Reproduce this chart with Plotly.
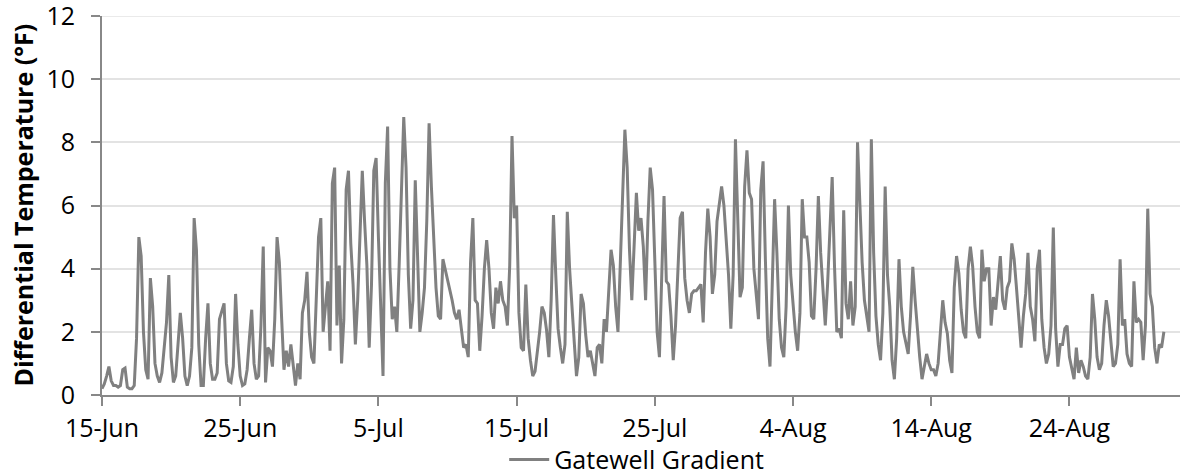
import pandas as pd
import plotly.graph_objects as go

# Gatewell Gradient, differential temperature (°F), 4-hourly readings
# (00, 04, 08, 12, 16, 20 h) for each day starting 15-Jun
start_date = "2013-06-15"
readings_per_day = 6
day_values = [
    [0.2, 0.35, 0.6, 0.9, 0.45, 0.3],
    [0.3, 0.25, 0.3, 0.8, 0.85, 0.25],
    [0.2, 0.2, 0.3, 1.8, 5.0, 4.4],
    [2.0, 0.8, 0.5, 3.7, 2.8, 1.0],
    [0.6, 0.4, 0.7, 1.6, 2.3, 3.8],
    [1.2, 0.4, 0.6, 1.6, 2.6, 1.8],
    [0.6, 0.3, 0.6, 1.5, 5.6, 4.6],
    [1.6, 0.3, 0.3, 1.8, 2.9, 1.0],
    [0.5, 0.5, 0.7, 2.4, 2.7, 2.9],
    [1.0, 0.45, 0.4, 0.9, 3.2, 1.6],
    [0.6, 0.3, 0.35, 0.8, 1.8, 2.7],
    [1.0, 0.5, 0.6, 2.2, 4.7, 0.4],
    [1.5, 1.4, 0.9, 2.4, 5.0, 4.2],
    [2.4, 0.8, 1.4, 0.9, 1.6, 1.0],
    [0.3, 1.0, 0.5, 2.6, 3.0, 3.9],
    [2.0, 1.2, 1.0, 3.0, 5.0, 5.6],
    [2.0, 2.8, 3.6, 1.4, 6.7, 7.2],
    [2.2, 4.1, 1.0, 2.4, 6.5, 7.1],
    [4.8, 3.5, 1.6, 3.0, 4.9, 7.1],
    [5.5, 4.1, 1.5, 3.5, 7.1, 7.5],
    [5.0, 3.0, 0.6, 6.7, 8.5, 4.0],
    [2.4, 2.8, 2.0, 4.1, 6.7, 8.8],
    [7.2, 3.8, 2.1, 3.0, 6.8, 4.2],
    [2.0, 2.6, 3.4, 5.5, 8.6, 6.6],
    [4.7, 3.4, 2.5, 2.4, 4.3, 4.0],
    [3.7, 3.4, 3.0, 2.6, 2.4, 2.7],
    [2.0, 1.5, 1.6, 1.2, 4.2, 5.6],
    [3.0, 2.9, 1.4, 2.5, 4.0, 4.9],
    [4.0, 2.6, 2.1, 3.4, 2.9, 3.6],
    [3.0, 2.8, 2.2, 4.1, 8.2, 5.6],
    [6.0, 2.6, 1.5, 1.4, 3.5, 1.8],
    [1.1, 0.6, 0.75, 1.3, 2.0, 2.8],
    [2.6, 2.05, 1.2, 3.0, 5.7, 3.8],
    [2.1, 1.5, 1.0, 1.6, 5.8, 4.0],
    [3.0, 1.7, 0.6, 1.2, 3.2, 2.9],
    [1.9, 1.2, 1.4, 1.0, 0.6, 1.5],
    [1.6, 1.0, 2.4, 2.0, 3.5, 4.6],
    [4.1, 2.8, 2.0, 4.3, 6.2, 8.4],
    [7.2, 4.6, 3.0, 4.6, 6.4, 5.2],
    [5.6, 4.7, 3.0, 5.5, 7.2, 6.5],
    [4.0, 2.0, 1.2, 3.5, 6.3, 3.6],
    [3.5, 2.5, 1.1, 2.2, 3.9, 5.6],
    [5.8, 3.7, 3.0, 2.6, 3.2, 3.3],
    [3.3, 3.4, 3.5, 2.3, 4.5, 5.9],
    [5.0, 3.2, 3.8, 5.5, 6.0, 6.6],
    [6.0, 5.0, 3.8, 2.1, 3.8, 8.1],
    [5.4, 3.1, 3.4, 6.6, 7.75, 6.4],
    [6.2, 4.0, 3.2, 2.4, 6.5, 7.4],
    [4.3, 1.8, 0.9, 3.5, 6.2, 4.5],
    [2.4, 1.5, 1.2, 2.8, 6.0, 3.8],
    [2.9, 2.0, 1.4, 2.6, 6.2, 5.0],
    [5.0, 4.2, 2.5, 2.4, 4.0, 6.3],
    [4.5, 3.4, 2.2, 3.5, 5.0, 6.9],
    [4.1, 2.0, 2.1, 1.8, 5.85, 2.9],
    [2.4, 3.6, 2.2, 2.8, 8.0, 5.8],
    [4.2, 3.0, 2.5, 2.0, 8.1, 4.5],
    [2.5, 1.6, 1.1, 2.6, 6.6, 3.8],
    [2.8, 1.1, 0.5, 1.8, 4.3, 2.8],
    [2.0, 1.7, 1.3, 2.5, 4.06, 3.0],
    [2.0, 1.2, 0.5, 0.9, 1.3, 1.0],
    [0.8, 0.8, 0.6, 1.0, 1.9, 3.0],
    [2.3, 1.95, 1.1, 0.7, 3.4, 4.4],
    [3.85, 2.7, 2.0, 1.8, 4.0, 4.7],
    [4.06, 2.8, 2.0, 1.8, 4.6, 3.6],
    [4.0, 4.0, 2.2, 3.1, 2.7, 3.7],
    [4.4, 3.0, 2.7, 3.4, 3.6, 4.8],
    [4.3, 3.4, 2.5, 1.5, 2.5, 3.2],
    [4.5, 2.8, 2.4, 1.7, 4.0, 4.6],
    [2.4, 1.5, 1.0, 1.3, 2.2, 5.3],
    [2.1, 0.9, 1.6, 1.6, 2.1, 2.2],
    [1.2, 0.9, 0.5, 1.5, 0.7, 1.1],
    [0.9, 0.6, 0.5, 1.2, 3.2, 2.4],
    [1.2, 0.8, 1.0, 2.2, 3.0, 2.5],
    [1.6, 0.9, 1.0, 1.6, 4.3, 2.2],
    [2.4, 1.3, 1.0, 0.9, 3.6, 2.3],
    [2.4, 2.3, 1.1, 2.2, 5.9, 3.2],
    [2.8, 1.5, 1.0, 1.6, 1.5, 2.0],
]

tick_dates = ["2013-06-15", "2013-06-25", "2013-07-05", "2013-07-15",
              "2013-07-25", "2013-08-04", "2013-08-14", "2013-08-24"]
tick_labels = ["15-Jun", "25-Jun", "5-Jul", "15-Jul", "25-Jul", "4-Aug", "14-Aug", "24-Aug"]
y_ticks = [0, 2, 4, 6, 8, 10, 12]
y_range = [0, 12]
x_range = ["2013-06-15", "2013-09-01"]
series_name = "Gatewell Gradient"
y_title = "Differential Temperature (°F)"

values = [v for day in day_values for v in day]
times = pd.date_range(start_date, periods=len(values), freq=f"{24 // readings_per_day}h")

FONT = "Open Sans, Noto Sans, sans-serif"
AXIS_COLOR = "#888888"

fig = go.Figure()
fig.add_trace(go.Scatter(
    x=times, y=values, mode="lines", name=series_name,
    line=dict(color="#808080", width=3),
))

fig.update_layout(
    width=1180, height=475,
    margin=dict(l=102, r=0, t=16, b=80, autoexpand=False),
    plot_bgcolor="white", paper_bgcolor="white",
    font=dict(family=FONT, size=25, color="#000000"),
    showlegend=True,
    legend=dict(orientation="h", x=0.496, xanchor="center", y=-0.171, yanchor="middle",
                font=dict(size=25), bgcolor="rgba(0,0,0,0)", itemwidth=40,
                tracegroupgap=0),
    xaxis=dict(
        type="date", range=x_range, automargin=False,
        tickvals=tick_dates, ticktext=tick_labels,
        showgrid=False, zeroline=False,
        showline=True, linecolor=AXIS_COLOR, linewidth=2,
        ticks="outside", ticklen=9, tickwidth=2, tickcolor=AXIS_COLOR,
        tickfont=dict(size=25), ticklabelstandoff=1, ticklabeloverflow="allow",
    ),
    yaxis=dict(
        range=y_range, tickvals=y_ticks, automargin=False,
        showgrid=True, gridcolor="#e3e3e3", gridwidth=1.5,
        zeroline=False,
        showline=True, linecolor=AXIS_COLOR, linewidth=2,
        ticks="outside", ticklen=9, tickwidth=2, tickcolor=AXIS_COLOR,
        tickfont=dict(size=25), ticklabelstandoff=11, ticklabeloverflow="allow",
    ),
    annotations=[dict(
        text=f"<b>{y_title}</b>", xref="paper", yref="paper",
        x=-0.0742, y=0.5, xanchor="center", yanchor="middle",
        textangle=-90, showarrow=False, font=dict(size=25, family=FONT),
    )],
)

# top gridline at 12 (the axis range edge)
fig.add_hline(y=12, line=dict(color="#e3e3e3", width=1.5), layer="below")

fig.write_html("out.html", config={"displayModeBar": False},
               post_script="document.body.style.margin='0';")
